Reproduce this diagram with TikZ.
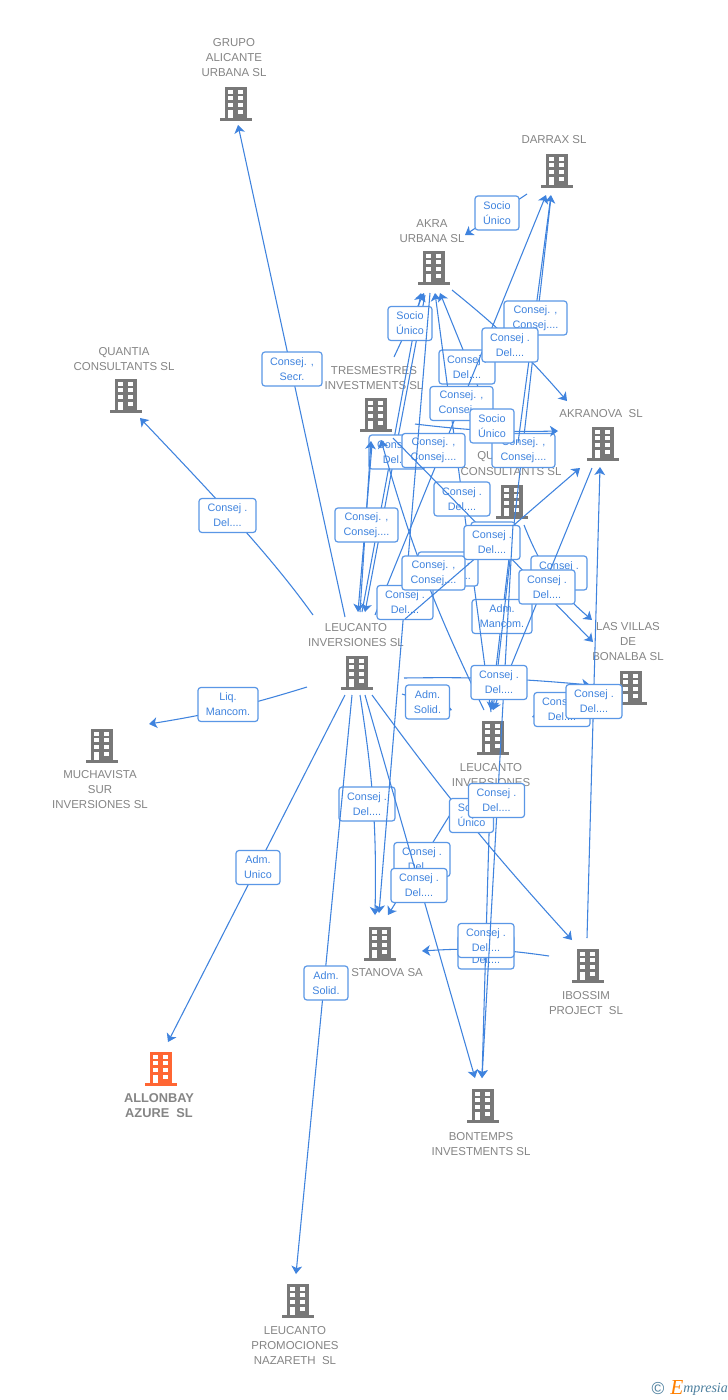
\documentclass[tikz,border=0pt]{standalone}
\usepackage{fontspec}
\setmainfont{Liberation Sans}
\newfontfamily\logofont{Liberation Serif}
\usetikzlibrary{arrows.meta}
\definecolor{linkblue}{HTML}{3F83DE}
\definecolor{boxblue}{HTML}{5A97E6}
\definecolor{textblue}{HTML}{3F83DE}
\definecolor{iconbody}{HTML}{787878}
\definecolor{iconhot}{HTML}{FF6633}
\definecolor{capgray}{HTML}{858585}
\definecolor{logoblue}{HTML}{4C7F9E}
\tikzset{
  link/.style={draw=linkblue,line width=0.8pt,-{Stealth[length=6pt,width=8pt,inset=1.6pt]}},
  lblbox/.style={draw=boxblue,line width=0.9pt,fill=white,rounded corners=2.2pt,inner sep=0pt,
    minimum width=#1*0.75pt,minimum height=25.5pt,align=center,text=textblue,
    font=\fontsize{8.1}{11.25}\selectfont},
  captxt/.style={inner sep=0pt,align=center,text=capgray,yshift=-0.6pt,font=\fontsize{8.6}{11.25}\selectfont},
  capbold/.style={inner sep=0pt,align=center,text=capgray,yshift=-0.6pt,font=\fontsize{9.6}{11.25}\selectfont\bfseries},
}
% building icon: colour, name, x, y
\newcommand\bldg[4]{%
  \node[inner sep=0pt,minimum width=24pt,minimum height=25pt] (#2) at (#3,#4) {};
  \begin{scope}[shift={(#3,#4)}]
    \fill[#1] (-11,-16) rectangle (11,15);
    \fill[#1] (-16,15) rectangle (16,17.5);
    \foreach \yy in {-13.5,-6.8,0}{
      \fill[white] (-7.6,\yy) rectangle (-2.6,\yy+4);
      \fill[white] (2.4,\yy) rectangle (7.4,\yy+4);
    }
    \fill[white] (-7.6,6.8) rectangle (-2.6,15);
    \fill[white] (2.4,6.8) rectangle (7.4,10.8);
  \end{scope}}
% connector: options, id, start, tip
\newcommand\conn[4][]{%
  \coordinate (#2s) at (#3);
  \coordinate (#2t) at (#4);
  \draw[link,#1] (#2s) to (#2t);}
\newcommand\lbl[4]{\node[lblbox=#1] (#2) at (#3) {#4};}
\newcommand\DEL{Consej .\\Del....}
\newcommand\CON{Consej. ,\\Consej....}
\newcommand\SOC{Socio\\Único}
\begin{document}
\begin{tikzpicture}[x=0.75pt,y=-0.75pt]
\useasboundingbox (0,0) rectangle (728,1400);
\fill[white] (0,0) rectangle (728,1400);

% captions
\node[captxt] (capgrupo) at (234,57) {GRUPO\\ALICANTE\\URBANA SL};
\node[captxt] (capdarrax) at (554,139) {DARRAX SL};
\node[captxt] (capakra) at (432,230) {AKRA\\URBANA SL};
\node[captxt] (capquantia) at (124,358) {QUANTIA\\CONSULTANTS SL};
\node[captxt] (captres) at (374,377) {TRESMESTRES\\INVESTMENTS SL};
\node[captxt] (capakranova) at (601,413) {AKRANOVA~~SL};
\node[captxt,anchor=west] (capqu) at (477,456) {QU};
\node[captxt] (capconsult) at (511,471) {CONSULTANTS SL};
\node[captxt] (capvillas) at (628,641) {LAS VILLAS\\DE\\BONALBA SL};
\node[captxt] (capleusl) at (356,634) {LEUCANTO\\INVERSIONES SL};
\node[captxt] (capleuinv) at (491,774) {LEUCANTO\\INVERSIONES};
\node[captxt] (capmucha) at (100,789) {MUCHAVISTA\\SUR\\INVERSIONES SL};
\node[captxt,anchor=west] (capstanova) at (351,972) {STANOVA SA};
\node[captxt] (capibossim) at (586,1002) {IBOSSIM\\PROJECT~~SL};
\node[capbold] (capallonbay) at (159,1105) {ALLONBAY\\AZURE~~SL};
\node[captxt] (capbontemps) at (481,1143) {BONTEMPS\\INVESTMENTS SL};
\node[captxt] (capnazareth) at (295,1345) {LEUCANTO\\PROMOCIONES\\NAZARETH~~SL};

% buildings
\bldg{iconbody}{grupo}{236}{103}
\bldg{iconbody}{darrax}{557}{170}
\bldg{iconbody}{akra}{434}{267}
\bldg{iconbody}{quantia}{126}{395}
\bldg{iconbody}{tres}{376}{414}
\bldg{iconbody}{akranova}{603}{443}
\bldg{iconbody}{consult}{512}{501}
\bldg{iconbody}{villas}{631}{687}
\bldg{iconbody}{leusl}{357}{672}
\bldg{iconbody}{leuinv}{493}{737}
\bldg{iconbody}{mucha}{102}{745}
\bldg{iconbody}{stanova}{380}{943}
\bldg{iconbody}{ibossim}{588}{965}
\bldg{iconhot}{allonbay}{161}{1068}
\bldg{iconbody}{bontemps}{483}{1105}
\bldg{iconbody}{nazareth}{298}{1300}

% connectors, each followed by its label box
\conn{ea}{345,617}{238,125}
\lbl{60}{la}{292,369}{Consej. ,\\Secr.}
\coordinate (ebs) at (313,615); \coordinate (ebt) at (140,418);
\draw[link] (ebs) .. controls (270,555) and (215,497) .. (ebt);
\lbl{57}{lb}{227.5,515.5}{\DEL}
\conn[bend left=4]{ec}{307,687}{149,724}
\lbl{60}{lc}{228,704.5}{Liq.\\Mancom.}
\conn{ed}{345,695}{168,1042}
\lbl{44}{ld}{258,867.5}{Adm.\\Unico}

\conn{e10}{500,441}{440,293}
\lbl{56}{l10}{467,367}{\DEL}
\conn{e25}{513,525}{491,710}
\lbl{60}{l25}{502,616.5}{Adm.\\Mancom.}
\conn[bend right=14]{e23}{524,525}{592,620}
\lbl{56}{l23}{559,573}{\DEL}
\conn[bend right=6]{e36}{549,956}{422,951}
\lbl{56}{l36}{486,952}{\DEL}
\conn{e35}{490,800}{482,1078}
\lbl{56}{l35}{486,940.5}{\DEL}
\conn[bend left=5]{e30}{360,695}{375,915}
\lbl{56}{l30}{367,804}{\DEL}
\conn{e16}{491,712}{435,293}
\lbl{56}{l16}{462,499}{\DEL}
\conn{e13}{551,197}{493,710}
\lbl{63}{l13}{523.5,450.5}{\CON}
\conn{e8}{518,443}{551,195}
\lbl{63}{l8}{535.5,318}{\CON}
\conn{e11}{375,615}{546,195}
\lbl{63}{l11}{461.5,403.5}{\CON}
\conn{e15a}{425,295}{365,612}
\conn{e15b}{362,612}{421,293}
\lbl{56}{l15}{397,452}{\DEL}
\conn{e17a}{372,445}{358,612}
\conn{e17b}{360,612}{371,441}
\lbl{63}{l17}{366.5,525}{\CON}
\conn{e7}{394,357}{424,293}
\lbl{44}{l7}{410,323.5}{\SOC}
\lbl{63}{l14}{433.5,450.5}{\CON}
\conn{e21}{430,293}{379,913}
\lbl{56}{l21}{405,602.5}{\DEL}
\lbl{60}{l19}{448,569}{\CON}
\conn[bend left=5]{e20}{484,710}{381,440}
\lbl{63}{l20}{433.5,573}{\CON}
\conn{e22}{393,438}{593,642}
\lbl{44}{l22}{493,539}{\SOC}
\conn{e18}{405,619}{580,468}
\lbl{56}{l18}{492,542.5}{\DEL}
\conn[bend right=4]{e12}{415,424}{558,431}
\lbl{44}{l12}{492,426}{\SOC}
\conn[bend left=5]{e9}{452,290}{567,401}
\lbl{56}{l9}{510,345}{\DEL}
\conn{e6}{527,194}{465,235}
\lbl{44}{l6}{497,213}{\SOC}
\conn{e24}{592,468}{493,710}
\lbl{56}{l24}{547,587}{\DEL}
\conn{e32}{513,525}{482,1078}
\conn[bend left=3]{e26}{404,678}{590,685}
\lbl{56}{l26}{499,682.5}{\DEL}
\conn{e27}{402,694}{452,710}
\lbl{44}{l27}{427.5,702}{Adm.\\Solid.}
\conn{e28}{590,700}{532,717}
\lbl{56}{l28}{562,709.5}{\DEL}
\conn{e29}{587,938}{600,467}
\lbl{56}{l29}{594,701.5}{\DEL}
\conn{e33}{456,805}{388,915}
\lbl{56}{l33}{422,859.5}{\DEL}
\conn[bend right=3]{e31}{372,695}{572,940}
\lbl{44}{l31}{471.5,815.5}{\SOC}
\lbl{56}{l32}{496.5,800.5}{\DEL}
\conn{e34}{365,695}{475,1078}
\lbl{56}{l34}{419,885.5}{\DEL}
\conn{e5}{352,695}{296,1274}
\lbl{44}{l5}{326,983}{Adm.\\Solid.}

% logo
\node[inner sep=0pt,text=logoblue,font=\fontsize{13}{13}\selectfont] (logoc) at (658,1388) {©};
\node[inner sep=0pt,text=orange,font=\logofont\itshape\fontsize{16}{16}\selectfont] (logoe) at (677,1387) {E};
\node[inner sep=0pt,anchor=west,text=logoblue,font=\logofont\itshape\fontsize{10.5}{12}\selectfont] (logot) at (683,1389.5) {mpresia};
\end{tikzpicture}
\end{document}
